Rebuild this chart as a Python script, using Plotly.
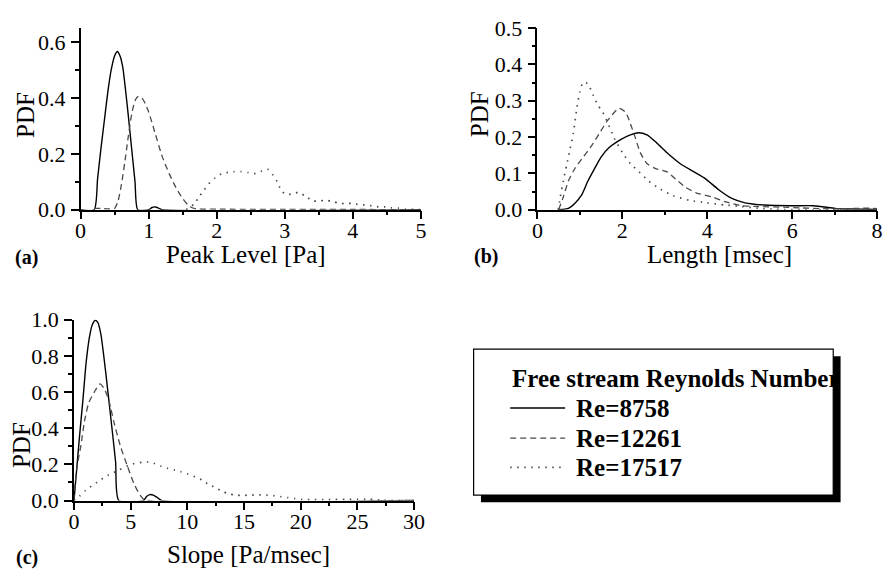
import plotly.graph_objects as go

W, H = 892, 577
FONT = "Liberation Serif"

# ---------------- data ----------------
series_names = ["Re=8758", "Re=12261", "Re=17517"]

# (a) Peak level [Pa]
a_x_8758 = [0.0, 0.2, 0.25, 0.3, 0.35, 0.4, 0.45, 0.5, 0.54, 0.58, 0.62, 0.66, 0.7, 0.75, 0.8, 0.84, 1.0, 1.05, 1.1, 1.15, 1.2, 5.0]
a_y_8758 = [0, 0, 0.11, 0.22, 0.32, 0.42, 0.50, 0.55, 0.566, 0.55, 0.51, 0.43, 0.34, 0.22, 0.10, 0, 0, 0.008, 0.01, 0.005, 0, 0]

a_x_12261 = [0.2, 0.3, 0.4, 0.5, 0.55, 0.6, 0.65, 0.7, 0.75, 0.8, 0.85, 0.9, 0.95, 1.0, 1.1, 1.2, 1.3, 1.4, 1.5, 1.6, 1.7, 2.0, 3.0, 4.0, 5.0]
a_y_12261 = [0.005, 0.005, 0.003, 0.005, 0.03, 0.09, 0.17, 0.26, 0.34, 0.39, 0.405, 0.40, 0.38, 0.35, 0.27, 0.19, 0.13, 0.08, 0.04, 0.012, 0.003, 0.002, 0.001, 0.001, 0]

a_x_17517 = [1.55, 1.67, 1.74, 1.81, 1.88, 1.98, 2.07, 2.17, 2.26, 2.36, 2.46, 2.55, 2.66, 2.76, 2.83, 2.89, 2.93, 3.0, 3.1, 3.2, 3.3, 3.41, 3.5, 3.6, 3.7, 3.8, 3.89, 3.99, 4.08, 4.18, 4.28, 4.38, 4.48, 4.57, 4.67, 4.77, 4.9, 5.0]
a_y_17517 = [0, 0.021, 0.046, 0.069, 0.092, 0.114, 0.128, 0.134, 0.136, 0.136, 0.133, 0.129, 0.138, 0.144, 0.123, 0.10, 0.078, 0.056, 0.056, 0.062, 0.049, 0.032, 0.031, 0.034, 0.030, 0.023, 0.022, 0.023, 0.019, 0.017, 0.014, 0.010, 0.010, 0.007, 0.006, 0.002, 0.001, 0]

# (b) Length [msec]
b_x_8758 = [0.5, 0.73, 0.885, 1.04, 1.19, 1.35, 1.5, 1.69, 1.96, 2.19, 2.39, 2.58, 2.81, 3.04, 3.35, 3.66, 3.96, 4.27, 4.58, 4.89, 5.35, 5.97, 6.5, 6.81, 7.04, 7.35, 8.0]
b_y_8758 = [0, 0.004, 0.018, 0.04, 0.079, 0.114, 0.145, 0.171, 0.193, 0.206, 0.212, 0.206, 0.184, 0.158, 0.128, 0.106, 0.085, 0.055, 0.031, 0.019, 0.013, 0.011, 0.011, 0.007, 0.003, 0.002, 0.001]

b_x_12261 = [0.5, 0.61, 0.73, 0.885, 1.08, 1.27, 1.46, 1.65, 1.92, 2.08, 2.19, 2.31, 2.42, 2.58, 2.77, 3.04, 3.27, 3.5, 3.75, 4.12, 4.42, 4.81, 5.2, 5.8, 6.2, 6.73, 7.1, 7.58, 7.85, 8.0]
b_y_12261 = [0, 0.035, 0.079, 0.114, 0.145, 0.175, 0.21, 0.245, 0.279, 0.268, 0.237, 0.197, 0.158, 0.127, 0.114, 0.105, 0.083, 0.061, 0.046, 0.035, 0.022, 0.011, 0.009, 0.007, 0.005, 0.003, 0.002, 0.004, 0.004, 0.003]

b_x_17517 = [0.49, 0.54, 0.61, 0.69, 0.77, 0.845, 0.92, 1.0, 1.08, 1.19, 1.31, 1.42, 1.54, 1.65, 1.81, 2.0, 2.19, 2.39, 2.62, 2.89, 3.19, 3.58, 4.0, 4.42, 4.81, 5.2, 5.6, 6.5, 8.0]
b_y_17517 = [0, 0.035, 0.079, 0.123, 0.167, 0.21, 0.272, 0.325, 0.351, 0.346, 0.316, 0.289, 0.268, 0.241, 0.197, 0.158, 0.127, 0.105, 0.079, 0.057, 0.039, 0.026, 0.019, 0.013, 0.009, 0.004, 0.001, 0, 0]

# (c) Slope [Pa/msec]
c_x_8758 = [0, 0.2, 0.49, 0.78, 1.07, 1.36, 1.6, 1.88, 2.1, 2.37, 2.8, 3.24, 3.67, 3.95, 6.12, 6.4, 6.7, 7.0, 7.27, 7.76, 30]
c_y_8758 = [0, 0.145, 0.356, 0.55, 0.762, 0.903, 0.97, 0.997, 0.985, 0.92, 0.709, 0.462, 0.215, 0, 0, 0.022, 0.033, 0.03, 0.02, 0, 0]

c_x_12261 = [0, 0.05, 0.3, 0.6, 0.93, 1.3, 1.79, 2.3, 2.7, 3.09, 3.52, 4.1, 4.67, 5.3, 5.83, 6.2, 30]
c_y_12261 = [0, 0.06, 0.2, 0.30, 0.44, 0.54, 0.60, 0.645, 0.615, 0.55, 0.435, 0.30, 0.198, 0.092, 0.03, 0.005, 0]

c_x_17517 = [0, 0.5, 1.0, 2.0, 3.0, 4.0, 5.0, 6.0, 6.7, 7.1, 7.7, 8.3, 8.9, 9.4, 10.0, 10.7, 11.3, 11.8, 12.5, 13.0, 13.6, 14.2, 14.8, 15.4, 16.0, 16.5, 17.1, 17.7, 18.3, 18.9, 19.5, 20.1, 21, 22, 23, 24, 25, 26, 26.6, 27, 30]
c_y_17517 = [0, 0.025, 0.055, 0.10, 0.14, 0.17, 0.20, 0.212, 0.213, 0.205, 0.19, 0.178, 0.168, 0.16, 0.148, 0.131, 0.113, 0.092, 0.071, 0.053, 0.039, 0.030, 0.028, 0.030, 0.031, 0.031, 0.030, 0.026, 0.021, 0.016, 0.011, 0.006, 0.005, 0.005, 0.006, 0.007, 0.007, 0.007, 0.006, 0.002, 0]

x_titles = ["Peak Level [Pa]", "Length [msec]", "Slope [Pa/msec]"]
y_title = "PDF"
panel_labels = ["(a)", "(b)", "(c)"]
legend_title = "Free stream Reynolds Number"

# ---------------- styling ----------------
styles = [
    dict(color="black", width=1.4, dash="solid"),
    dict(color="#4a4a4a", width=1.3, dash="6px,4px"),
    dict(color="#4a4a4a", width=1.7, dash="1.5px,5.5px"),
]


def px(x):
    return x / W


def py(y):
    return 1 - y / H


fig = go.Figure()

panels = [
    ([(a_x_8758, a_y_8758), (a_x_12261, a_y_12261), (a_x_17517, a_y_17517)], "x", "y"),
    ([(b_x_8758, b_y_8758), (b_x_12261, b_y_12261), (b_x_17517, b_y_17517)], "x2", "y2"),
    ([(c_x_8758, c_y_8758), (c_x_12261, c_y_12261), (c_x_17517, c_y_17517)], "x3", "y3"),
]

for series, xa, ya in panels:
    for i, (xs, ys) in enumerate(series):
        fig.add_trace(go.Scatter(
            x=xs, y=ys, xaxis=xa, yaxis=ya, mode="lines",
            name=series_names[i], showlegend=False,
            line=dict(color=styles[i]["color"], width=styles[i]["width"],
                      dash=styles[i]["dash"], shape="spline", smoothing=0.6),
            cliponaxis=True,
        ))

# pixel geometry of the three plot areas
geo = {
    "a": dict(x0=76, x1=423, ytop=16.7, ybot=206.7),
    "b": dict(x0=541.7, x1=888, ytop=16.7, ybot=206.7),
    "c": dict(x0=69.3, x1=416, ytop=321.7, ybot=510.7),
}

tickfont = dict(family=FONT, size=22, color="black")


def xax(g, rng, dtick, minor, anchor):
    return dict(
        domain=[px(g["x0"]), px(g["x1"])], range=rng, anchor=anchor,
        showgrid=False, zeroline=False, showline=True, linecolor="black", linewidth=1.5,
        ticks="outside", ticklen=8, tickwidth=1.5, tickcolor="black", dtick=dtick, tick0=0,
        minor=dict(dtick=minor, tick0=0, ticks="outside", ticklen=4, tickwidth=1.5, tickcolor="black", showgrid=False),
        tickfont=tickfont, fixedrange=True, ticklabelstandoff=-8,
    )


def yax(g, rng, dtick, minor, anchor):
    return dict(
        domain=[py(g["ybot"]), py(g["ytop"])], range=rng, anchor=anchor,
        showgrid=False, zeroline=False, showline=True, linecolor="black", linewidth=1.5,
        ticks="outside", ticklen=8, tickwidth=1.5, tickcolor="black", dtick=dtick, tick0=0,
        minor=dict(dtick=minor, tick0=0, ticks="outside", ticklen=4, tickwidth=1.5, tickcolor="black", showgrid=False),
        tickfont=tickfont, tickformat=".1f", fixedrange=True, ticklabelstandoff=1,
    )


fig.update_layout(
    width=W, height=H, margin=dict(l=0, r=0, t=0, b=0),
    paper_bgcolor="white", plot_bgcolor="white",
    font=dict(family=FONT, color="black"),
    showlegend=False,
    xaxis=xax(geo["a"], [0, 5], 1, 0.5, "y"),
    yaxis=yax(geo["a"], [0, 0.65], 0.2, 0.1, "x"),
    xaxis2=xax(geo["b"], [0, 8], 2, 1, "y2"),
    yaxis2=yax(geo["b"], [0, 0.5], 0.1, 0.05, "x2"),
    xaxis3=xax(geo["c"], [0, 30], 5, 2.5, "y3"),
    yaxis3=yax(geo["c"], [0, 1.0], 0.2, 0.1, "x3"),
)

ann = []
titlefont = dict(family=FONT, size=25, color="black")
labfont = dict(family=FONT, size=20, color="black")
# axis titles
for (cx, cy), t in zip([(244.5, 254), (727, 254), (247, 567)], x_titles):
    ann.append(dict(x=px(cx), y=py(cy), xref="paper", yref="paper", text=t, showarrow=False,
                    xanchor="center", yanchor="middle", font=titlefont))
for (cx, cy) in [(20, 108), (483, 107), (16, 453)]:
    ann.append(dict(x=px(cx), y=py(cy), xref="paper", yref="paper", text=y_title, showarrow=False,
                    xanchor="center", yanchor="middle", textangle=-90, font=titlefont))
for (cx, cy), t in zip([(21, 257), (489, 256), (21, 570)], panel_labels):
    ann.append(dict(x=px(cx), y=py(cy), xref="paper", yref="paper", text="<b>%s</b>" % t, showarrow=False,
                    xanchor="center", yanchor="middle", font=labfont))

# legend box (drawn with shapes + text)
shapes = []
bx0, bx1, by0, by1 = 476.7, 843.3, 352.3, 505
shapes.append(dict(type="rect", xref="paper", yref="paper", x0=px(bx0 + 7.5), x1=px(bx1 + 7.5),
                   y0=py(by1 + 7.5), y1=py(by0 + 7.5), fillcolor="black", line=dict(width=0), layer="above"))
shapes.append(dict(type="rect", xref="paper", yref="paper", x0=px(bx0), x1=px(bx1),
                   y0=py(by1), y1=py(by0), fillcolor="white", line=dict(color="black", width=1.2), layer="above"))
legfont = dict(family=FONT, size=25, color="black")
ann.append(dict(x=px(514), y=py(383), xref="paper", yref="paper", text="<b>%s</b>" % legend_title,
                showarrow=False, xanchor="left", yanchor="middle", font=legfont))
for i, ly in enumerate([414, 445.5, 476]):
    shapes.append(dict(type="line", xref="paper", yref="paper", x0=px(514), x1=px(570), y0=py(ly), y1=py(ly),
                       line=dict(color=styles[i]["color"], width=styles[i]["width"], dash=styles[i]["dash"]),
                       layer="above"))
    ann.append(dict(x=px(579), y=py(ly), xref="paper", yref="paper", text="<b>%s</b>" % series_names[i],
                    showarrow=False, xanchor="left", yanchor="middle", font=legfont))

fig.update_layout(annotations=ann, shapes=shapes)
fig.write_html("out.html")
